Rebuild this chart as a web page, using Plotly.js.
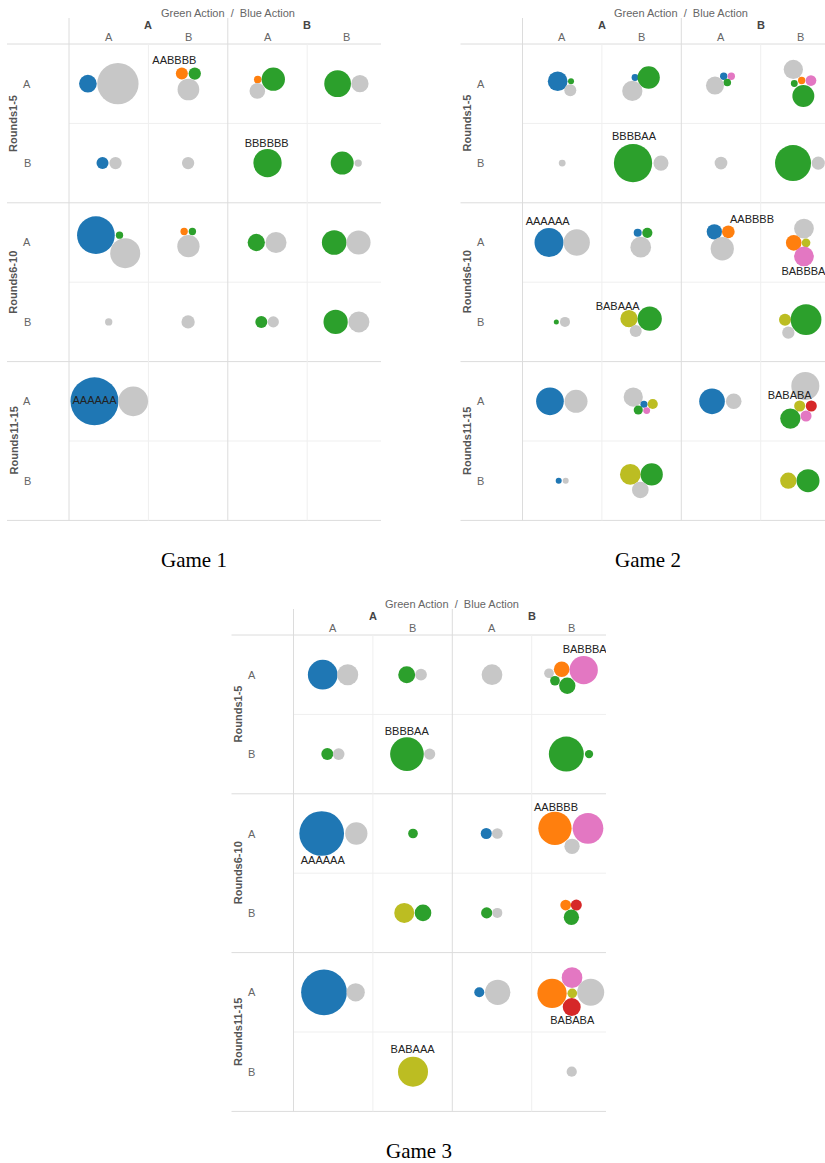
<!DOCTYPE html>
<html><head><meta charset="utf-8">
<script src="https://cdn.plot.ly/plotly-3.0.1.min.js"></script>
<style>html,body{margin:0;padding:0;background:#fff}#chart{width:825px;height:1163px}</style>
</head><body><div id="chart"></div>
<script>
// ---- categories / tick labels ----
const greenActions = ['A', 'B'];
const blueActions = ['A', 'B'];
const roundGroups = ['Rounds1-5', 'Rounds6-10', 'Rounds11-15'];
const rowActions = ['A', 'B'];
const gameTitles = ['Game 1', 'Game 2', 'Game 3'];
const headerTitle = 'Green Action\u00a0 /\u00a0 Blue Action';

// ---- Game 1 bubbles (col = green×blue action cell, row = round group×action, dx/dy = % of cell) ----
const g1Col = [0,0,1,1,1,2,2,2,3,3, 0,0,1,2,3,3, 0,0,0,1,1,1,2,2,3,3, 0,1,2,2,3,3, 0,0];
const g1Row = [0,0,0,0,0,0,0,0,0,0, 1,1,1,1,1,1, 2,2,2,2,2,2,2,2,2,2, 3,3,3,3,3,3, 4,4];
const g1Series = ['blue','grey','orange','green','grey','orange','green','grey','green','grey',
  'blue','grey','grey','green','green','grey',
  'blue','green','grey','orange','green','grey','green','grey','green','grey',
  'grey','grey','green','grey','green','grey',
  'blue','grey'];
const g1Value = [8.7,47.4,4,4.2,13.1,1.6,15.1,6.8,19.8,8.3,
  4,4.2,4.2,22.2,14.7,1.5,
  39.5,1.5,25,1.5,1.5,13.8,8.3,12.3,16.9,16,
  1.5,4.9,4,3.5,16.4,12.3,
  64,24.5];
const g1Dx = [-26.2,11.6,-7.9,8.4,0.4,-12.3,7.3,-12.8,-11.7,16.4,
  -7.8,8.6,0,0,-5.9,14.2,
  -16.1,13.6,20.8,-5,5.4,0.4,-14.1,10.7,-16,14.7,
  0,0,-7.8,7.3,-14.2,15.1,
  -17.9,30.9];
const g1Dy = [0,0,-12.8,-12.8,7.3,-5.3,-5.7,9.1,0,0,
  0,0,0,0,0,0,
  -9.2,-9.2,13.5,-13.9,-13.9,4.7,0,0,0,0,
  0,0,0,0,0,0,
  0,0];
const g1LabelCol = [1,2,0];
const g1LabelRow = [0,1,4];
const g1LabelText = ['AABBBB','BBBBBB','AAAAAA'];
const g1LabelDx = [-17.3,-1,-17.9];
const g1LabelDy = [-28.3,-23.6,0];

// ---- Game 2 ----
const g2Col = [0,0,0,1,1,1,2,2,2,2,3,3,3,3,3, 0,1,1,2,3,3, 0,0,1,1,1,2,2,2,3,3,3,3, 0,0,1,1,1,3,3,3, 0,0,1,1,1,1,1,2,2,3,3,3,3,3, 0,0,1,1,1,3,3];
const g2Row = [0,0,0,0,0,0,0,0,0,0,0,0,0,0,0, 1,1,1,1,1,1, 2,2,2,2,2,2,2,2,2,2,2,2, 3,3,3,3,3,3,3,3, 4,4,4,4,4,4,4,4,4,4,4,4,4,4, 5,5,5,5,5,5,5];
const g2Series = ['blue','green','grey','blue','green','grey','blue','pink','green','grey','grey','green','orange','pink','green',
  'grey','green','grey','grey','green','grey',
  'blue','grey','blue','green','grey','blue','orange','grey','grey','orange','olive','pink',
  'green','grey','olive','green','grey','olive','grey','green',
  'blue','grey','grey','blue','olive','green','pink','blue','grey','grey','olive','red','pink','green',
  'blue','grey','olive','green','grey','olive','green'];
const g2Value = [10.8,1,4,1.3,13.8,11.4,1.5,1.5,1.6,9,10.3,1.3,1.5,3.2,13.4,
  1.3,40.7,6.3,4.5,36,4.9,
  23.4,19.2,1.8,2.9,11.9,6.5,4.5,15.1,10.8,6.8,2.1,10.8,
  0.7,2.8,8.3,16.4,4,4,4.2,26.2,
  21.3,14.7,10.3,1.4,2.9,2.3,1.3,18.3,6.8,21.8,3.4,3.4,3.4,11.4,
  1,1,11.9,13.8,7.7,7.4,14.7];
const g2Dx = [-5.7,11.1,10.2,-8.3,8.9,-11.7,3.4,13,7.9,-7.6,-8.9,-7.7,1.6,13.3,3.7,
  0,-10.8,24.4,0,-9.3,22.5,
  -16.6,18.3,-4.9,7.2,-1.1,-8.4,9.2,1.6,4.5,-8.4,7.1,4.5,
  -7.4,3.5,-15.9,10.2,-7.4,-19.4,-15.2,7.1,
  -15.4,17.4,-10.5,3,14,-4.2,6.4,-11.3,16,6.2,-0.9,13.7,7.1,-12.7,
  -4.4,4.4,-14.2,12.7,-1.6,-15.2,9.6];
const g2Dy = [-3.1,-3.1,8.2,-7.8,-7.8,9.1,-9.4,-9.4,-1.5,2.3,-17.9,-0.3,-4,-4,15.4,
  0,0,0,0,0,0,
  0,0,-12.2,-12.2,5.9,-13.5,-13.5,7.9,-17.6,0.4,0.4,17.6,
  0,0,-4,-4,11.6,-2.8,13.6,-2.8,
  0,0,-5.4,3.8,3.4,11,11.7,0,0,-19.3,5.9,5.9,18.5,21.8,
  0,0,-7.9,-7.9,11.7,0,0];
const g2LabelCol = [1,0,2,3,1,3];
const g2LabelRow = [1,2,2,2,3,4];
const g2LabelText = ['BBBBAA','AAAAAA','AABBBB','BABBBA','BABAAA','BABABA'];
const g2LabelDx = [-9.6,-18.3,39,3.8,-30.1,-13.5];
const g2LabelDy = [-32.4,-25.2,-27.7,37.4,-18.6,-5.9];

// ---- Game 3 ----
const g3Col = [0,0,1,1,2,3,3,3,3,3, 0,0,1,1,3,3, 0,0,1,2,2,3,3,3, 1,1,2,2,3,3,3, 0,0,2,2,3,3,3,3,3, 1,3];
const g3Row = [0,0,0,0,0,0,0,0,0,0, 1,1,1,1,1,1, 2,2,2,2,2,2,2,2, 3,3,3,3,3,3,3, 4,4,4,4,4,4,4,4,4, 5,5];
const g3Series = ['blue','grey','green','grey','grey','grey','orange','pink','green','green',
  'green','grey','green','grey','green','green',
  'blue','grey','green','blue','grey','orange','pink','grey',
  'olive','green','green','grey','orange','red','green',
  'blue','grey','blue','grey','pink','orange','olive','grey','red',
  'olive','grey'];
const g3Value = [24.5,12.3,8,3.8,11.9,2.6,6.8,22.2,2.6,7.4,
  4,3.8,31.5,3.5,34,1.9,
  55.5,13.8,2.6,3.4,3.2,30.8,26.2,6.5,
  11.1,7.7,3.5,2.8,3.2,3.4,6.5,
  58,9.3,2.8,17.8,11.9,23.8,2.6,20.3,9,
  25,2.9];
const g3Dx = [-13.2,18.3,-7.4,10.6,0,-28.2,-12.2,15.5,-20.7,-5.2,
  -7.4,6.9,-7.1,21.5,-6.4,22.2,
  -14.5,29.1,0.5,-7.2,6.7,-20.7,20.9,0.8,
  -10.5,13.1,-6.7,6.7,-7.2,6.2,0,
  -11.6,28.3,-16,7.2,0.8,-24.4,1.1,24.3,0.4,
  0.5,0.4];
const g3Dy = [0,0,0,0,0,-1.8,-6.8,-5.9,7.6,13.9,
  0,0,0,0,0,0,
  0,0,0,0,0,-6.5,-6.5,16.1,
  0,0,0,0,-9.9,-9.9,5.5,
  0,0,0,0,-18.4,1.3,1.3,0,18.5,
  0,0];
const g3LabelCol = [3,1,0,3,3,1];
const g3LabelRow = [0,1,2,2,4,5];
const g3LabelText = ['BABBBA','BBBBAA','AAAAAA','AABBBB','BABABA','BABAAA'];
const g3LabelDx = [16.7,-7.4,-13.2,-19.4,1.1,0];
const g3LabelDy = [-31.1,-27.5,34.6,-32.1,36.5,-27.3];

// ---- styling ----
const seriesColors = {blue:'#1f77b4', orange:'#ff7f0e', green:'#2ca02c', red:'#d62728',
  pink:'#e377c2', olive:'#bcbd22', grey:'#c7c7c7'};
const W = 825, H = 1163, CELL = 79.4, SIZE_SCALE = 6;
const PANELS = [
  {left: 69, top: 44, right: 381},
  {left: 522.5, top: 44, right: 825},
  {left: 293.5, top: 635, right: 606}
];
const FONT = 'Liberation Sans, Arial, Helvetica, sans-serif';

const games = [
  {col:g1Col,row:g1Row,ser:g1Series,val:g1Value,dx:g1Dx,dy:g1Dy,
   lc:g1LabelCol,lr:g1LabelRow,lt:g1LabelText,ldx:g1LabelDx,ldy:g1LabelDy},
  {col:g2Col,row:g2Row,ser:g2Series,val:g2Value,dx:g2Dx,dy:g2Dy,
   lc:g2LabelCol,lr:g2LabelRow,lt:g2LabelText,ldx:g2LabelDx,ldy:g2LabelDy},
  {col:g3Col,row:g3Row,ser:g3Series,val:g3Value,dx:g3Dx,dy:g3Dy,
   lc:g3LabelCol,lr:g3LabelRow,lt:g3LabelText,ldx:g3LabelDx,ldy:g3LabelDy}
];

const px = v => v / W;
const py = v => 1 - v / H;

const traces = [];
const layout = {
  width: W, height: H,
  margin: {l:0, r:0, t:0, b:0},
  paper_bgcolor: '#fff', plot_bgcolor: 'rgba(0,0,0,0)',
  showlegend: false,
  hovermode: false,
  shapes: [],
  annotations: []
};

games.forEach((g, i) => {
  const P = PANELS[i];
  const bottom = P.top + 6 * CELL;
  const sfx = i === 0 ? '' : String(i + 1);
  const xa = 'x' + sfx, ya = 'y' + sfx;
  const axBase = {showgrid:false, zeroline:false, showticklabels:false, ticks:'', showline:false, fixedrange:true};
  layout['xaxis' + sfx] = Object.assign({}, axBase, {
    domain: [px(P.left), px(P.right)], range: [0, (P.right - P.left) / CELL], anchor: ya
  });
  layout['yaxis' + sfx] = Object.assign({}, axBase, {
    domain: [py(bottom), py(P.top)], range: [6, 0], anchor: xa
  });

  // bubbles
  traces.push({
    type: 'scatter', mode: 'markers', xaxis: xa, yaxis: ya,
    x: g.col.map((c, k) => c + 0.5 + g.dx[k] / 100),
    y: g.row.map((r, k) => r + 0.5 + g.dy[k] / 100),
    marker: {
      size: g.val.map(v => SIZE_SCALE * Math.sqrt(v)),
      sizemode: 'diameter',
      color: g.ser.map(s => seriesColors[s]),
      opacity: 1,
      line: {width: 0}
    },
    cliponaxis: true,
    hoverinfo: 'skip'
  });
  // sequence labels
  traces.push({
    type: 'scatter', mode: 'text', xaxis: xa, yaxis: ya,
    x: g.lc.map((c, k) => c + 0.5 + g.ldx[k] / 100),
    y: g.lr.map((r, k) => r + 0.5 + g.ldy[k] / 100),
    text: g.lt,
    textposition: 'middle center',
    textfont: {family: FONT, size: 11, color: '#222'},
    cliponaxis: true,
    hoverinfo: 'skip'
  });

  // grid lines
  const heavy = {color: '#dcdcdc', width: 1};
  const light = {color: '#efefef', width: 1};
  for (let k = 0; k <= 6; k++) {
    const yy = py(P.top + k * CELL);
    const isHeavy = k % 2 === 0;
    layout.shapes.push({type:'line', xref:'paper', yref:'paper',
      x0: px(isHeavy ? P.left - 62 : P.left), x1: px(P.right), y0: yy, y1: yy,
      line: isHeavy ? heavy : light, layer: 'below'});
  }
  for (let c = 0; c < 4; c++) {
    const xx = px(P.left + c * CELL);
    const isHeavy = c % 2 === 0;
    layout.shapes.push({type:'line', xref:'paper', yref:'paper',
      x0: xx, x1: xx, y0: py(isHeavy ? P.top - 26 : P.top), y1: py(bottom),
      line: isHeavy ? heavy : light, layer: 'below'});
  }

  // column headers
  layout.annotations.push({xref: xa, yref:'paper', x: 2, y: py(P.top - 31),
    text: headerTitle, showarrow:false, xanchor:'center', yanchor:'middle',
    font:{family:FONT, size:11, color:'#666'}});
  greenActions.forEach((ga, gi) => {
    layout.annotations.push({xref: xa, yref:'paper', x: gi * 2 + 1, y: py(P.top - 19),
      text: '<b>' + ga + '</b>', showarrow:false, xanchor:'center', yanchor:'middle',
      font:{family:FONT, size:11, color:'#444'}});
    blueActions.forEach((ba, bi) => {
      layout.annotations.push({xref: xa, yref:'paper', x: gi * 2 + bi + 0.5, y: py(P.top - 7),
        text: ba, showarrow:false, xanchor:'center', yanchor:'middle',
        font:{family:FONT, size:11, color:'#666'}});
    });
  });
  // row headers
  roundGroups.forEach((rg, ri) => {
    layout.annotations.push({xref:'paper', yref: ya, x: px(P.left - 55.5), y: ri * 2 + 1,
      text: '<b>' + rg + '</b>', textangle: -90, showarrow:false, xanchor:'center', yanchor:'middle',
      font:{family:FONT, size:11, color:'#555'}});
    rowActions.forEach((ra, ai) => {
      layout.annotations.push({xref:'paper', yref: ya, x: px(P.left - 42), y: ri * 2 + ai + 0.5,
        text: ra, showarrow:false, xanchor:'center', yanchor:'middle',
        font:{family:FONT, size:11, color:'#666'}});
    });
  });
  // game title
  layout.annotations.push({xref:'paper', yref:'paper', x: px(P.left - 62 + 187), y: py(bottom + 40),
    text: gameTitles[i], showarrow:false, xanchor:'center', yanchor:'middle',
    font:{family:'Liberation Serif, Times New Roman, serif', size:21, color:'#000'}});
});

Plotly.newPlot('chart', traces, layout, {staticPlot: true, displayModeBar: false});
</script>
</body></html>
